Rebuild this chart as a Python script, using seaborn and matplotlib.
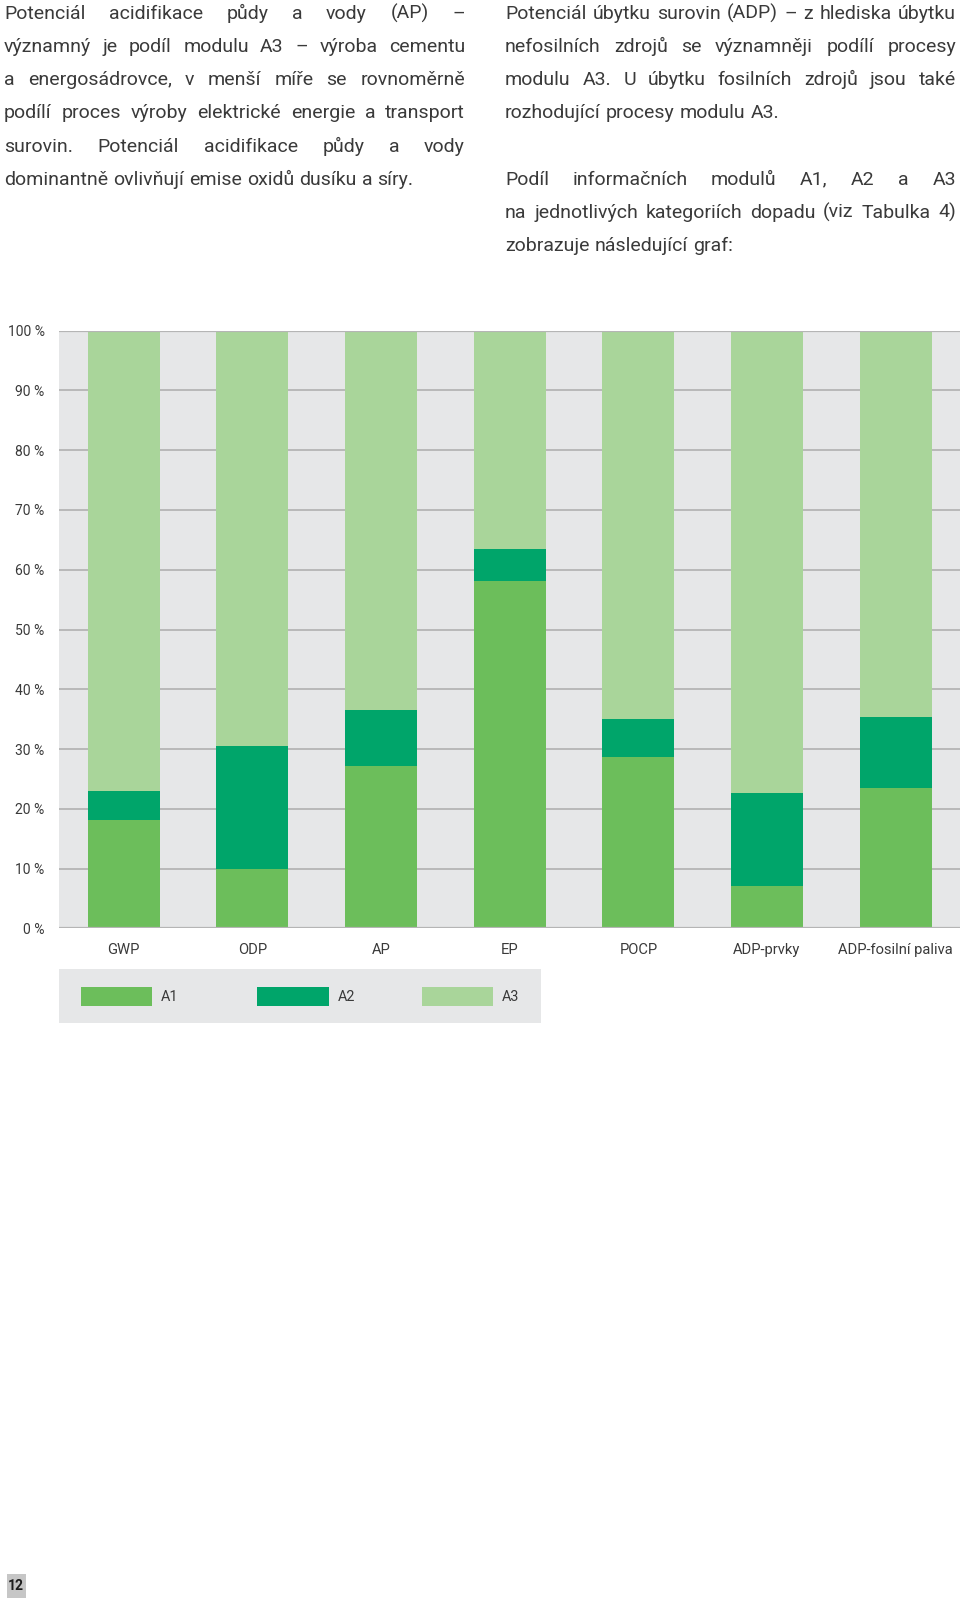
import matplotlib
matplotlib.use("Agg")
import matplotlib.pyplot as plt
import seaborn as sns
import pandas as pd
from matplotlib.patches import Rectangle

# ---------------- data ----------------
categories = ["GWP", "ODP", "AP", "EP", "POCP", "ADP-prvky", "ADP-fosilní paliva"]
a1 = [18.1, 10.0, 27.2, 58.1, 28.6, 7.0, 23.4]
a2 = [4.8, 20.5, 9.3, 5.3, 6.5, 15.7, 11.9]
a3 = [77.1, 69.5, 63.5, 36.6, 64.9, 77.3, 64.7]
series_names = ["A1", "A2", "A3"]
y_ticks = [0, 10, 20, 30, 40, 50, 60, 70, 80, 90, 100]
y_tick_labels = ["0 %", "10 %", "20 %", "30 %", "40 %", "50 %", "60 %", "70 %", "80 %", "90 %", "100 %"]

text_left = [
    "Potenciál acidifikace půdy a vody (AP) –",
    "významný je podíl modulu A3 – výroba cementu",
    "a energosádrovce, v menší míře se rovnoměrně",
    "podílí proces výroby elektrické energie a transport",
    "surovin. Potenciál acidifikace půdy a vody",
    "dominantně ovlivňují emise oxidů dusíku a síry.",
]
text_right_1 = [
    "Potenciál úbytku surovin (ADP) – z hlediska úbytku",
    "nefosilních zdrojů se významněji podílí procesy",
    "modulu A3. U úbytku fosilních zdrojů jsou také",
    "rozhodující procesy modulu A3.",
]
text_right_2 = [
    "Podíl informačních modulů A1, A2 a A3",
    "na jednotlivých kategoriích dopadu (viz Tabulka 4)",
    "zobrazuje následující graf:",
]
page_number = "12"

# ---------------- style ----------------
W, H = 960, 1600
sns.set_theme(style="white")
plt.rcParams["font.family"] = ["Roboto", "DejaVu Sans"]
TXT = "#3a3a3a"
colors = {"A1": "#6cbe5b", "A2": "#00a56a", "A3": "#a9d59a"}
BG = "#e6e7e8"
GRID = "#b5b5b5"

fig = plt.figure(figsize=(9.6, 16), dpi=100)
fig.patch.set_facecolor("white")

def fx(x):
    return x / W

def fy(y):
    return 1 - y / H

# ---------------- chart ----------------
ax_l, ax_r, ax_t, ax_b = 59.3, 960.0, 330.7, 928.3
ax = fig.add_axes([fx(ax_l), fy(ax_b), (ax_r - ax_l) / W, (ax_b - ax_t) / H])
ax.set_facecolor(BG)

df = pd.DataFrame({"kategorie": categories, "A1": a1, "A2": a2, "A3": a3})
df["c2"] = df["A1"] + df["A2"]
df["c3"] = df["c2"] + df["A3"]

for col, key in [("c3", "A3"), ("c2", "A2"), ("A1", "A1")]:
    sns.barplot(data=df, x="kategorie", y=col, color=colors[key], width=0.56,
                saturation=1, linewidth=0, errorbar=None, ax=ax, zorder=2)

for v in y_ticks:
    if v in (0, 100):
        ax.axhline(v, color=GRID, lw=1.6, zorder=3)
    else:
        ax.axhline(v, color=GRID, lw=1.3, zorder=1)

ax.set_xlim(-0.5, len(categories) - 0.5)
ax.set_ylim(0, 100)
ax.set_yticks(y_ticks)
ax.set_yticklabels(y_tick_labels)
ax.set_xlabel("")
ax.set_ylabel("")
ax.tick_params(axis="y", length=0, pad=10.5, labelsize=10, labelcolor=TXT)
ax.tick_params(axis="x", length=0, pad=10.5, labelsize=10.6, labelcolor=TXT)
for s in ax.spines.values():
    s.set_visible(False)
ax.grid(False)

# ---------------- legend ----------------
fig.patches.append(Rectangle((fx(59.3), fy(1023.3)), (540.7 - 59.3) / W, (1023.3 - 969.3) / H,
                             transform=fig.transFigure, facecolor=BG, edgecolor="none", zorder=0))
leg_patch_x = [80.7, 257.3, 421.7]
leg_text_x = [160.7, 337.7, 501.7]
for name, px, tx in zip(series_names, leg_patch_x, leg_text_x):
    fig.patches.append(Rectangle((fx(px), fy(1006.0)), 71.6 / W, (1006.0 - 987.3) / H,
                                 transform=fig.transFigure, facecolor=colors[name],
                                 edgecolor="none", zorder=1))
    fig.text(fx(tx), fy(996.8), name, fontsize=10.4, color=TXT, ha="left", va="center")

# ---------------- paragraph text (justified) ----------------
FS = 14.0
renderer = fig.canvas.get_renderer()

def draw_line(text, x0, x1, ybase, justify):
    words = text.split(" ")
    arts = [fig.text(0, fy(ybase), w, fontsize=FS, color=TXT, ha="left", va="baseline")
            for w in words]
    widths = [a.get_window_extent(renderer).width for a in arts]
    if justify and len(words) > 1:
        gap = (x1 - x0 - sum(widths)) / (len(words) - 1)
    else:
        gap = FS * 100 / 72 * 0.26
    x = x0
    for a, w in zip(arts, widths):
        a.set_x(fx(x))
        x += w + gap

BASE0, LS = 18.8, 33.2
for i, line in enumerate(text_left):
    draw_line(line, 4.0, 465.0, BASE0 + LS * i, i < len(text_left) - 1)
for i, line in enumerate(text_right_1):
    draw_line(line, 505.0, 956.0, BASE0 + LS * i, i < len(text_right_1) - 1)
for i, line in enumerate(text_right_2):
    draw_line(line, 505.0, 956.0, BASE0 + LS * (i + 5), i < len(text_right_2) - 1)

# ---------------- page number ----------------
fig.patches.append(Rectangle((fx(6.5), fy(1598)), 19 / W, 24 / H, transform=fig.transFigure,
                             facecolor="#c6c6c6", edgecolor="none"))
fig.text(fx(16), fy(1586), page_number, fontsize=10, fontweight="bold", color="#1e1e1e",
         ha="center", va="center")

fig.savefig("out.png", dpi=100, facecolor="white")
